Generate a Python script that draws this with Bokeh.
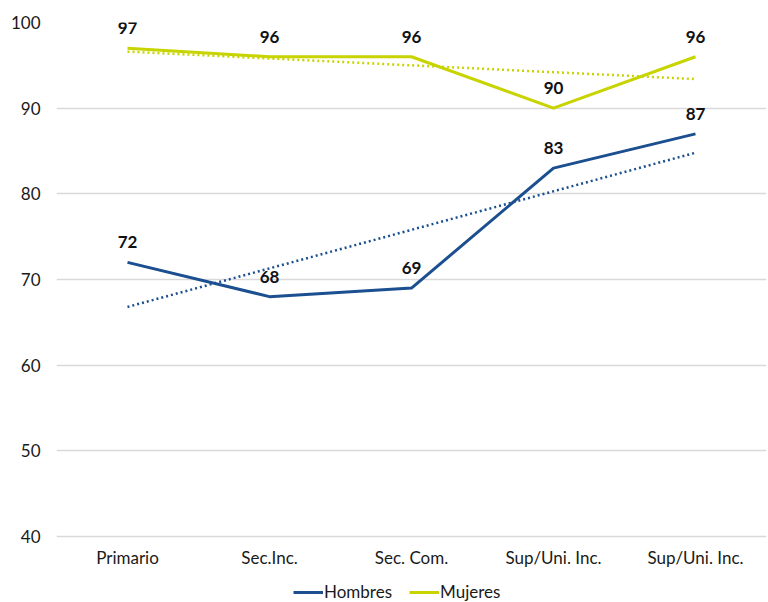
import numpy as np
from bokeh.plotting import figure
from bokeh.models import Range1d, FixedTicker, Legend, LegendItem, ColumnDataSource
from bokeh.core.properties import value
from bokeh.embed import file_html
from bokeh.resources import INLINE

categories = ["Primario", "Sec.Inc.", "Sec. Com.", "Sup/Uni. Inc.", "Sup/Uni. Inc."]
hombres = [72, 68, 69, 83, 87]
mujeres = [97, 96, 96, 90, 96]
y_ticks = [40, 50, 60, 70, 80, 90, 100]

BLUE = "#1b4f8f"
LIME = "#c8d400"
FONT = "Lato"

x = list(range(len(categories)))
y_min, y_max = y_ticks[0], y_ticks[-1]

# the frame runs to the bottom of the page; the space below 40 holds
# the category labels and the legend
p = figure(width=768, height=602, output_backend="svg", toolbar_location=None,
           x_range=Range1d(-0.5, len(categories) - 0.5), y_range=Range1d(32.3, y_max),
           min_border_left=56, min_border_right=2, min_border_top=22, min_border_bottom=0)
p.outline_line_color = None
p.background_fill_color = "white"

p.xaxis.visible = False
p.xgrid.grid_line_color = None

yax = p.yaxis[0]
yax.ticker = FixedTicker(ticks=y_ticks)
yax.axis_line_color = None
yax.major_tick_line_color = None
yax.minor_tick_line_color = None
yax.major_tick_out = 0
yax.major_tick_in = 0
yax.major_label_text_font = FONT
yax.major_label_text_font_size = "17px"
yax.major_label_text_color = "#1a1a1a"
yax.major_label_standoff = 16
p.ygrid.ticker = FixedTicker(ticks=y_ticks)
p.ygrid.grid_line_color = "#d9d9d9"
p.ygrid.grid_line_width = 1.5

# category labels under the 40 line
cat_src = ColumnDataSource(dict(x=x, y=[y_min] * len(x), t=categories))
p.text("x", "y", text="t", source=cat_src, text_align="center", text_baseline="middle",
       y_offset=21, text_font=value(FONT), text_font_size="17px", text_color="#1a1a1a")

# linear trend lines
def trend(vals):
    k, b = np.polyfit(x, vals, 1)
    return [k * xi + b for xi in x]

p.line(x, trend(hombres), line_color=BLUE, line_width=2.5, line_dash="2 3")
p.line(x, trend(mujeres), line_color=LIME, line_width=2.5, line_dash="2 3")

r_h = p.line(x, hombres, line_color=BLUE, line_width=3, line_join="round")
r_m = p.line(x, mujeres, line_color=LIME, line_width=3, line_join="round")

# value labels
for vals in (hombres, mujeres):
    src = ColumnDataSource(dict(x=x, y=vals, t=[str(v) for v in vals]))
    p.text("x", "y", text="t", source=src, text_align="center", text_baseline="bottom",
           y_offset=-14, text_font=value(FONT), text_font_style="bold",
           text_font_size="17px", text_color="#111111")

legend = Legend(items=[LegendItem(label="Hombres", renderers=[r_h]),
                       LegendItem(label="Mujeres", renderers=[r_m])],
                orientation="horizontal", location=(237, 0),
                label_text_font=FONT, label_text_font_size="17px",
                label_text_color="#1a1a1a", glyph_width=30, glyph_height=20,
                label_height=20, spacing=17,
                padding=0, margin=0, border_line_color=None,
                background_fill_alpha=0, label_standoff=1)
p.add_layout(legend, "center")

open("out.html", "w").write(file_html(p, INLINE))
